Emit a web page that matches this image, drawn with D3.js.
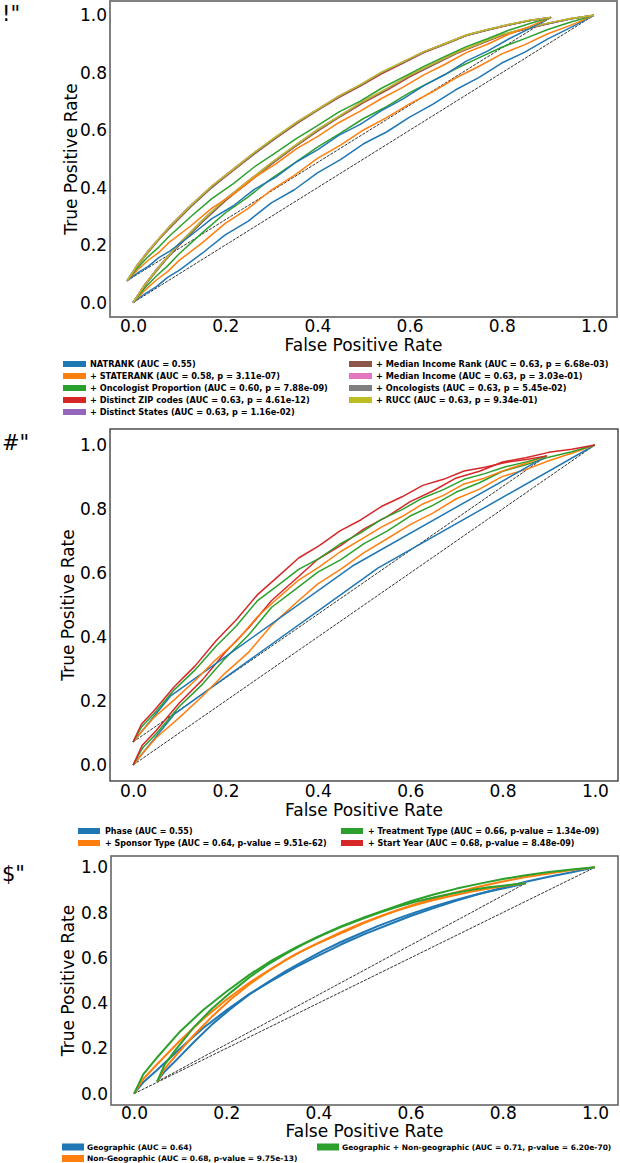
<!DOCTYPE html>
<html><head><meta charset="utf-8">
<script src="https://cdn.jsdelivr.net/npm/d3@7"></script>
<style>body{margin:0;background:#fff}svg{display:block;font-family:"DejaVu Sans",sans-serif}</style>
</head><body>
<svg id="c" width="620" height="1163"></svg>
<script>
// ---------------- DATA ----------------
const tickValues = [0.0, 0.2, 0.4, 0.6, 0.8, 1.0];
const panelTags = ['!"', '#"', '$"'];

// Panel A (geographic features) – FPR grid and TPR per model
const aFpr = [0, .025, .05, .075, .1, .15, .2, .25, .3, .35, .4, .45, .5, .55, .6, .65, .7, .75, .8, .85, .9, .95, 1];
const aNatrank     = [0, .03, .055, .088, .112, .172, .236, .284, .347, .393, .452, .498, .553, .594, .646, .69, .741, .783, .834, .872, .918, .958, 1];
const aStaterank   = [0, .042, .078, .108, .147, .208, .276, .328, .392, .443, .502, .548, .601, .644, .692, .734, .782, .822, .866, .898, .936, .966, 1];
const aOncProp     = [0, .05, .092, .128, .17, .243, .312, .368, .432, .486, .541, .59, .641, .682, .731, .772, .814, .852, .889, .919, .951, .977, 1];
const aZip         = [0, .062, .112, .158, .2, .282, .356, .418, .482, .541, .597, .648, .696, .739, .786, .826, .866, .898, .931, .952, .971, .988, 1];
const aStates      = [0, .06, .115, .16, .206, .287, .36, .423, .486, .544, .601, .651, .7, .742, .79, .829, .869, .9, .932, .953, .972, .988, 1];
const aMedIncRank  = [0, .058, .108, .156, .2, .28, .354, .42, .482, .542, .598, .649, .699, .741, .789, .828, .868, .899, .931, .952, .971, .988, 1];
const aMedInc      = [0, .061, .113, .161, .205, .286, .36, .424, .487, .545, .602, .652, .702, .744, .791, .83, .87, .901, .933, .954, .973, .989, 1];
const aOncologists = [0, .06, .11, .159, .203, .283, .358, .421, .484, .543, .6, .65, .7, .743, .79, .829, .869, .9, .932, .953, .972, .988, 1];
const aRucc        = [0, .061, .112, .16, .205, .286, .36, .423, .487, .546, .602, .652, .702, .745, .792, .831, .87, .901, .933, .954, .973, .989, 1];
const aLabels = [
  "NATRANK (AUC = 0.55)",
  "+ STATERANK (AUC = 0.58, p = 3.11e-07)",
  "+ Oncologist Proportion (AUC = 0.60, p = 7.88e-09)",
  "+ Distinct ZIP codes (AUC = 0.63, p = 4.61e-12)",
  "+ Distinct States (AUC = 0.63, p = 1.16e-02)",
  "+ Median Income Rank (AUC = 0.63, p = 6.68e-03)",
  "+ Median Income (AUC = 0.63, p = 3.03e-01)",
  "+ Oncologists (AUC = 0.63, p = 5.45e-02)",
  "+ RUCC (AUC = 0.63, p = 9.34e-01)"
];

// Panel B (trial features)
const bPhaseFpr = [0, .09, .53, 1];
const bPhase    = [0, .16, .615, 1];
const bFpr = [0, .02, .05, .1, .15, .2, .25, .3, .35, .4, .45, .5, .55, .6, .65, .7, .75, .8, .85, .9, .95, 1];
const bSponsor   = [0, .035, .085, .148, .215, .288, .352, .437, .503, .566, .612, .664, .707, .751, .788, .832, .862, .902, .923, .951, .974, 1];
const bTreatment = [0, .052, .098, .183, .252, .334, .406, .493, .547, .603, .642, .692, .731, .778, .812, .853, .882, .918, .938, .962, .979, 1];
const bStartYear = [0, .062, .108, .194, .266, .353, .428, .514, .578, .643, .686, .738, .776, .823, .857, .897, .918, .947, .96, .977, .987, 1];
const bLabels = [
  "Phase (AUC = 0.55)",
  "+ Sponsor Type (AUC = 0.64, p-value = 9.51e-62)",
  "+ Treatment Type (AUC = 0.66, p-value = 1.34e-09)",
  "+ Start Year (AUC = 0.68, p-value = 8.48e-09)"
];

// Panel C (combined)
const cFpr = [0, .02, .05, .1, .15, .2, .25, .3, .35, .4, .45, .5, .55, .6, .65, .7, .75, .8, .85, .9, .95, 1];
const cGeo    = [0, .05, .105, .2, .29, .368, .44, .5, .558, .61, .66, .705, .745, .785, .82, .853, .883, .91, .936, .958, .978, 1];
const cNonGeo = [0, .065, .13, .235, .33, .415, .49, .555, .615, .665, .71, .755, .795, .83, .862, .89, .915, .937, .957, .973, .988, 1];
const cBoth   = [0, .085, .16, .275, .37, .45, .525, .59, .645, .695, .74, .78, .815, .85, .88, .906, .928, .948, .965, .979, .99, 1];
const cLabels = [
  "Geographic (AUC = 0.64)",
  "Non-Geographic (AUC = 0.68, p-value = 9.75e-13)",
  "Geographic + Non-geographic (AUC = 0.71, p-value = 6.20e-70)"
];

// ---------------- STYLE / LAYOUT ----------------
const tab10 = ["#1f77b4","#ff7f0e","#2ca02c","#d62728","#9467bd","#8c564b","#e377c2","#7f7f7f","#bcbd22"];
const zip = (xs, ys) => xs.map((x, i) => [x, ys[i]]);

const panels = [
  {
    tag: panelTags[0], tagY: 21,
    box: {l: 110, r: 617, t: 1, b: 317},
    spine: {color: "#808080", w: 2},
    ghost: {ox: -0.013, sx: 0.92, oy: 0.076, sy: 0.917},
    lw: 1.5,
    series: [aNatrank, aStaterank, aOncProp, aZip, aStates, aMedIncRank, aMedInc, aOncologists, aRucc]
      .map((t, i) => ({pts: zip(aFpr, t), color: tab10[i], label: aLabels[i]})),
    tickY: 333, labelY: 351, ylabX: 71,
    legend: {font: 8.2, sw: 23, sh: 6, gap: 4, cols: [{x: 63, y: 364, idx: [0,1,2,3,4]}, {x: 349, y: 364, idx: [5,6,7,8]}], dy: 12}
  },
  {
    tag: panelTags[1], tagY: 450,
    box: {l: 110, r: 618, t: 429, b: 781},
    spine: {color: "#333", w: 1.3},
    ghost: {ox: 0, sx: 0.896, oy: 0.072, sy: 0.894},
    lw: 1.5,
    series: [
      {pts: zip(bPhaseFpr, bPhase), color: tab10[0], label: bLabels[0]},
      {pts: zip(bFpr, bSponsor), color: tab10[1], label: bLabels[1]},
      {pts: zip(bFpr, bTreatment), color: tab10[2], label: bLabels[2]},
      {pts: zip(bFpr, bStartYear), color: tab10[3], label: bLabels[3]}
    ],
    tickY: 798, labelY: 816, ylabX: 68,
    legend: {font: 8.0, sw: 22, sh: 6, gap: 5, cols: [{x: 78, y: 831, idx: [0,1]}, {x: 341, y: 831, idx: [2,3]}], dy: 12}
  },
  {
    tag: panelTags[2], tagY: 881,
    box: {l: 111, r: 618, t: 856, b: 1105},
    spine: {color: "#666", w: 1.6},
    ghost: {ox: 0.05, sx: 0.8, oy: 0.053, sy: 0.877},
    lw: 2,
    series: [
      {pts: zip(cFpr, cGeo), color: tab10[0], label: cLabels[0]},
      {pts: zip(cFpr, cNonGeo), color: tab10[1], label: cLabels[1]},
      {pts: zip(cFpr, cBoth), color: tab10[2], label: cLabels[2]}
    ],
    tickY: 1120, labelY: 1137, ylabX: 68,
    legend: {font: 7.5, sw: 22, sh: 7, gap: 3, cols: [{x: 62, y: 1147, idx: [0,1]}, {x: 317, y: 1147, idx: [2]}], dy: 11.5}
  }
];

const svg = d3.select("#c");

panels.forEach(p => {
  const g = svg.append("g");
  const x = d3.scaleLinear().domain([-0.05, 1.05]).range([p.box.l, p.box.r]);
  const y = d3.scaleLinear().domain([-0.05, 1.05]).range([p.box.b, p.box.t]);
  const gh = p.ghost;
  const line = d3.line().x(d => x(d[0])).y(d => y(d[1]));
  const ghostLine = d3.line().x(d => x(gh.ox + gh.sx * d[0])).y(d => y(gh.oy + gh.sy * d[1]));

  const clipId = "clip" + p.tag.charCodeAt(0);
  svg.append("clipPath").attr("id", clipId).append("rect")
    .attr("x", p.box.l).attr("y", p.box.t).attr("width", p.box.r - p.box.l).attr("height", p.box.b - p.box.t);
  const plot = g.append("g").attr("clip-path", `url(#${clipId})`);

  // diagonals
  const diag = [[0, 0], [1, 1]];
  [line, ghostLine].forEach(fn => {
    plot.append("path").attr("d", fn(diag)).attr("fill", "none")
      .attr("stroke", "#1a1a1a").attr("stroke-width", 0.9).attr("stroke-dasharray", "3,1.2");
  });

  // curves: main and ghost copies
  p.series.forEach(s => {
    plot.append("path").attr("d", line(s.pts)).attr("fill", "none")
      .attr("stroke", s.color).attr("stroke-width", p.lw).attr("stroke-linejoin", "round");
  });
  p.series.forEach(s => {
    plot.append("path").attr("d", ghostLine(s.pts)).attr("fill", "none")
      .attr("stroke", s.color).attr("stroke-width", p.lw).attr("stroke-linejoin", "round");
  });

  // frame
  g.append("rect").attr("x", p.box.l).attr("y", p.box.t)
    .attr("width", p.box.r - p.box.l).attr("height", p.box.b - p.box.t)
    .attr("fill", "none").attr("stroke", p.spine.color).attr("stroke-width", p.spine.w);

  // axes via d3 (tick lines hidden)
  const xAxis = d3.axisBottom(x).tickValues(tickValues).tickFormat(d3.format(".1f")).tickSize(0).tickPadding(0);
  const yAxis = d3.axisLeft(y).tickValues(tickValues).tickFormat(d3.format(".1f")).tickSize(0).tickPadding(3);
  const gx = g.append("g").attr("transform", `translate(0,${p.tickY - 13})`).call(xAxis);
  const gy = g.append("g").attr("transform", `translate(${p.box.l},0)`).call(yAxis);
  [gx, gy].forEach(a => {
    a.select(".domain").remove();
    a.selectAll("text").attr("font-size", 17).attr("font-family", "DejaVu Sans").attr("fill", "#000");
  });
  gx.selectAll("text").attr("dy", "0.71em");

  g.append("text").attr("x", x(0.5)).attr("y", p.labelY).attr("text-anchor", "middle")
    .attr("font-size", 17).attr("fill", "#000").text("False Positive Rate");
  g.append("text").attr("transform", `translate(${p.ylabX},${(y(0) + y(1)) / 2}) rotate(-90)`)
    .attr("text-anchor", "middle").attr("dy", "0.35em")
    .attr("font-size", 17).attr("fill", "#000").text("True Positive Rate");

  g.append("text").attr("x", 2).attr("y", p.tagY).attr("font-size", 21).attr("fill", "#000").text(p.tag);

  // legend
  const L = p.legend;
  L.cols.forEach(c => {
    c.idx.forEach((si, k) => {
      const s = p.series[si];
      const cy = c.y + k * L.dy;
      g.append("rect").attr("x", c.x).attr("y", cy - L.sh / 2).attr("width", L.sw).attr("height", L.sh).attr("fill", s.color);
      g.append("text").attr("x", c.x + L.sw + L.gap).attr("y", cy).attr("dy", "0.35em")
        .attr("font-size", L.font).attr("font-weight", "bold").attr("fill", "#000").text(s.label);
    });
  });
});
</script>
</body></html>
